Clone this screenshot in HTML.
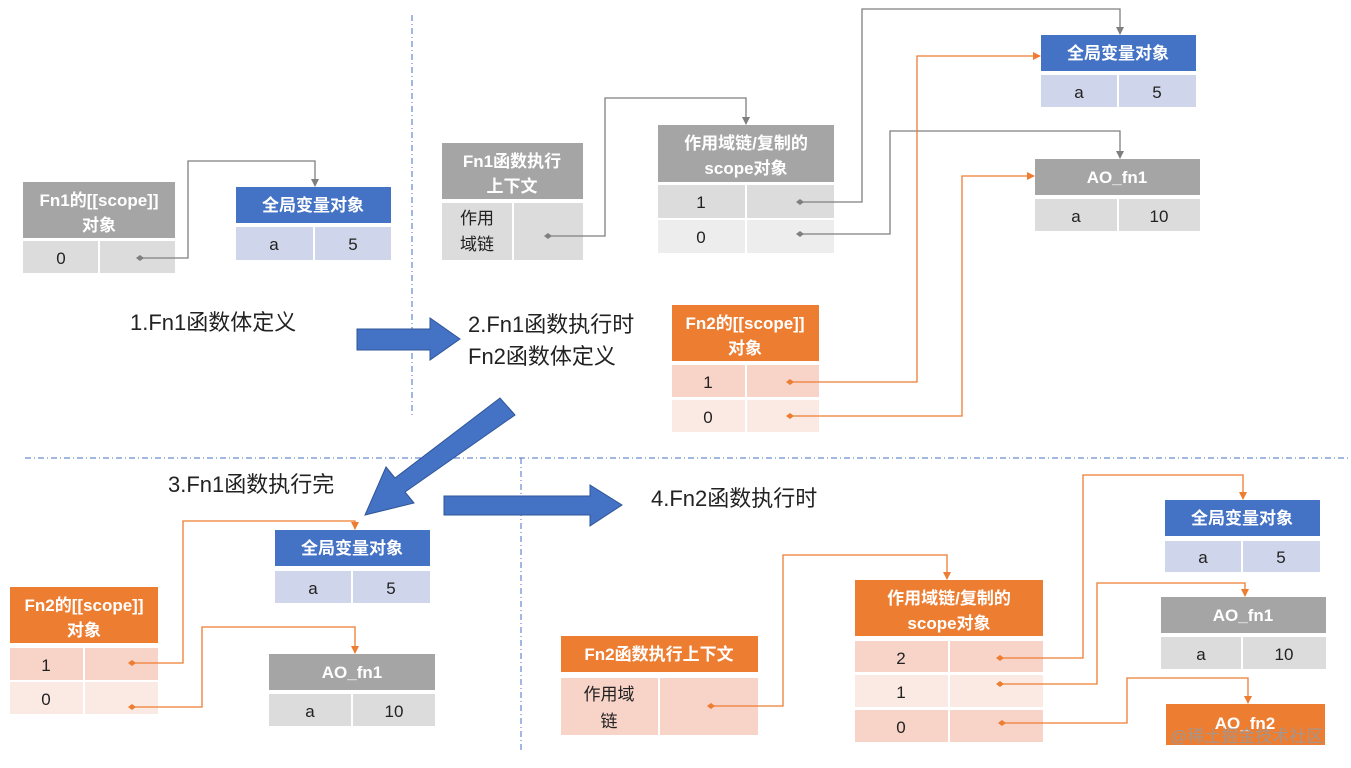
<!DOCTYPE html>
<html><head><meta charset="utf-8"><style>body{margin:0;background:#fff}svg{display:block}text{font-family:"Liberation Sans","Noto Sans CJK SC",sans-serif}</style></head><body>
<svg width="1351" height="768" viewBox="0 0 1351 768" xmlns="http://www.w3.org/2000/svg">
<defs>
<marker id="ag" markerWidth="8" markerHeight="8" refX="7" refY="4" orient="auto" markerUnits="userSpaceOnUse"><path d="M0,0L8,4L0,8z" fill="#7f7f7f"/></marker>
<marker id="ao" markerWidth="8" markerHeight="8" refX="7" refY="4" orient="auto" markerUnits="userSpaceOnUse"><path d="M0,0L8,4L0,8z" fill="#ed7d31"/></marker>
<marker id="dg" markerWidth="8" markerHeight="8" refX="4" refY="4" orient="auto" markerUnits="userSpaceOnUse"><path d="M0,4L4,1L8,4L4,7z" fill="#7f7f7f"/></marker>
<marker id="do" markerWidth="8" markerHeight="8" refX="4" refY="4" orient="auto" markerUnits="userSpaceOnUse"><path d="M0,4L4,1L8,4L4,7z" fill="#ed7d31"/></marker>
</defs>
<g stroke="#4472c4" stroke-width="1" stroke-dasharray="6,3,1,3" fill="none">
<line x1="412" y1="15" x2="412" y2="415"/><line x1="25" y1="458" x2="1351" y2="458"/><line x1="521" y1="458" x2="521" y2="750"/>
</g>
<g font-size="17" font-weight="bold" fill="#fff" text-anchor="middle">
<!-- Box A -->
<rect x="23" y="182" width="152" height="56" fill="#a5a5a5"/><text x="99" y="206">Fn1的[[scope]]</text><text x="99" y="231">对象</text>
<rect x="236" y="187" width="155" height="36" fill="#4472c4"/><text x="313" y="211">全局变量对象</text>
<rect x="442" y="143" width="141" height="56" fill="#a5a5a5"/><text x="512" y="167">Fn1函数执行</text><text x="512" y="192">上下文</text>
<rect x="658" y="125" width="176" height="57" fill="#a5a5a5"/><text x="746" y="149">作用域链/复制的</text><text x="746" y="174">scope对象</text>
<rect x="1041" y="35" width="155" height="36" fill="#4472c4"/><text x="1118" y="59">全局变量对象</text>
<rect x="1035" y="159" width="165" height="36" fill="#a5a5a5"/><text x="1117" y="183">AO_fn1</text>
<rect x="672" y="305" width="147" height="56" fill="#ed7d31"/><text x="745" y="329">Fn2的[[scope]]</text><text x="745" y="354">对象</text>
<rect x="275" y="530" width="155" height="36" fill="#4472c4"/><text x="352" y="554">全局变量对象</text>
<rect x="10" y="587" width="148" height="56" fill="#ed7d31"/><text x="84" y="611">Fn2的[[scope]]</text><text x="84" y="636">对象</text>
<rect x="269" y="654" width="166" height="36" fill="#a5a5a5"/><text x="352" y="678">AO_fn1</text>
<rect x="561" y="636" width="197" height="36" fill="#ed7d31"/><text x="659" y="660">Fn2函数执行上下文</text>
<rect x="855" y="580" width="188" height="56" fill="#ed7d31"/><text x="949" y="604">作用域链/复制的</text><text x="949" y="629">scope对象</text>
<rect x="1165" y="500" width="155" height="36" fill="#4472c4"/><text x="1242" y="524">全局变量对象</text>
<rect x="1161" y="597" width="165" height="36" fill="#a5a5a5"/><text x="1243" y="621">AO_fn1</text>
<rect x="1166" y="704" width="159" height="41" fill="#ed7d31"/><text x="1245" y="729">AO_fn2</text>
</g>
<g>
<rect x="23" y="241" width="75" height="32" fill="#dcdcdc"/><rect x="100" y="241" width="75" height="32" fill="#dcdcdc"/>
<rect x="236" y="227" width="77" height="33" fill="#cfd5ea"/><rect x="315" y="227" width="76" height="33" fill="#cfd5ea"/>
<rect x="442" y="203" width="70" height="57" fill="#dcdcdc"/><rect x="514" y="203" width="69" height="57" fill="#dcdcdc"/>
<rect x="658" y="185" width="87" height="33" fill="#dcdcdc"/><rect x="747" y="185" width="87" height="33" fill="#dcdcdc"/>
<rect x="658" y="220" width="87" height="33" fill="#ededed"/><rect x="747" y="220" width="87" height="33" fill="#ededed"/>
<rect x="1041" y="75" width="76" height="32" fill="#cfd5ea"/><rect x="1119" y="75" width="77" height="32" fill="#cfd5ea"/>
<rect x="1035" y="199" width="82" height="32" fill="#dcdcdc"/><rect x="1119" y="199" width="81" height="32" fill="#dcdcdc"/>
<rect x="672" y="365" width="73" height="32" fill="#f8d3c8"/><rect x="747" y="365" width="72" height="32" fill="#f8d3c8"/>
<rect x="672" y="400" width="73" height="32" fill="#fbeae4"/><rect x="747" y="400" width="72" height="32" fill="#fbeae4"/>
<rect x="275" y="571" width="76" height="32" fill="#cfd5ea"/><rect x="353" y="571" width="77" height="32" fill="#cfd5ea"/>
<rect x="10" y="648" width="73" height="32" fill="#f8d3c8"/><rect x="85" y="648" width="73" height="32" fill="#f8d3c8"/>
<rect x="10" y="682" width="73" height="32" fill="#fbeae4"/><rect x="85" y="682" width="73" height="32" fill="#fbeae4"/>
<rect x="269" y="694" width="82" height="32" fill="#dcdcdc"/><rect x="353" y="694" width="82" height="32" fill="#dcdcdc"/>
<rect x="561" y="678" width="97" height="57" fill="#f8d3c8"/><rect x="660" y="678" width="98" height="57" fill="#f8d3c8"/>
<rect x="855" y="641" width="93" height="31" fill="#f8d3c8"/><rect x="950" y="641" width="93" height="31" fill="#f8d3c8"/>
<rect x="855" y="675" width="93" height="32" fill="#fbeae4"/><rect x="950" y="675" width="93" height="32" fill="#fbeae4"/>
<rect x="855" y="710" width="93" height="32" fill="#f8d3c8"/><rect x="950" y="710" width="93" height="32" fill="#f8d3c8"/>
<rect x="1165" y="541" width="76" height="31" fill="#cfd5ea"/><rect x="1243" y="541" width="77" height="31" fill="#cfd5ea"/>
<rect x="1161" y="637" width="80" height="32" fill="#dcdcdc"/><rect x="1243" y="637" width="83" height="32" fill="#dcdcdc"/>
</g>
<g font-size="17" fill="#222" text-anchor="middle">
<text x="61" y="264">0</text>
<text x="274" y="250">a</text><text x="353" y="250">5</text>
<text x="477" y="224">作用</text><text x="477" y="250">域链</text>
<text x="701" y="208">1</text><text x="701" y="243">0</text>
<text x="1079" y="98">a</text><text x="1157" y="98">5</text>
<text x="1076" y="222">a</text><text x="1159" y="222">10</text>
<text x="708" y="388">1</text><text x="708" y="423">0</text>
<text x="313" y="594">a</text><text x="391" y="594">5</text>
<text x="46" y="671">1</text><text x="46" y="705">0</text>
<text x="310" y="717">a</text><text x="394" y="717">10</text>
<text x="609" y="700">作用域</text><text x="609" y="727">链</text>
<text x="901" y="664">2</text><text x="901" y="698">1</text><text x="901" y="733">0</text>
<text x="1203" y="563">a</text><text x="1281" y="563">5</text>
<text x="1201" y="660">a</text><text x="1284" y="660">10</text>
</g>
<g font-size="22" fill="#222">
<text x="130" y="330">1.Fn1函数体定义</text>
<text x="468" y="332">2.Fn1函数执行时</text><text x="468" y="364">Fn2函数体定义</text>
<text x="168" y="492">3.Fn1函数执行完</text>
<text x="651" y="506">4.Fn2函数执行时</text>
</g>
<g fill="#4472c4" stroke="#2f5597" stroke-width="1">
<path d="M357,329H430V318L460,339L430,360V350H357z"/>
<path d="M444,496H590V485L622,505L590,526V515H444z"/>
<path d="M515,415L500,398L395,478L386,467L365,515L414,503L405,492z"/>
</g>
<g fill="none" stroke="#7f7f7f" stroke-width="1.3">
<path d="M140,258H188V161H315V186" marker-start="url(#dg)" marker-end="url(#ag)"/>
<path d="M548,236H605V98H746V124" marker-start="url(#dg)" marker-end="url(#ag)"/>
<path d="M800,202H862V9H1120V34" marker-start="url(#dg)" marker-end="url(#ag)"/>
<path d="M800,234H890V131H1120V158" marker-start="url(#dg)" marker-end="url(#ag)"/>
</g>
<g fill="none" stroke="#ed7d31" stroke-width="1.3">
<path d="M790,382H917V56H1040" marker-start="url(#do)" marker-end="url(#ao)"/>
<path d="M790,416H962V176H1034" marker-start="url(#do)" marker-end="url(#ao)"/>
<path d="M132,663H183V521H355V529" marker-start="url(#do)" marker-end="url(#ao)"/>
<path d="M132,707H202V627H355V653" marker-start="url(#do)" marker-end="url(#ao)"/>
<path d="M711,706H783V555H947V579" marker-start="url(#do)" marker-end="url(#ao)"/>
<path d="M1000,658H1083V475H1243V499" marker-start="url(#do)" marker-end="url(#ao)"/>
<path d="M1000,684H1097V583H1245V596" marker-start="url(#do)" marker-end="url(#ao)"/>
<path d="M1002,723H1127V678H1248V703" marker-start="url(#do)" marker-end="url(#ao)"/>
</g>
<text x="1170" y="742" font-size="17" fill="#9a9a9a" opacity="0.85">@稀土掘金技术社区</text>
</svg>
</body></html>
